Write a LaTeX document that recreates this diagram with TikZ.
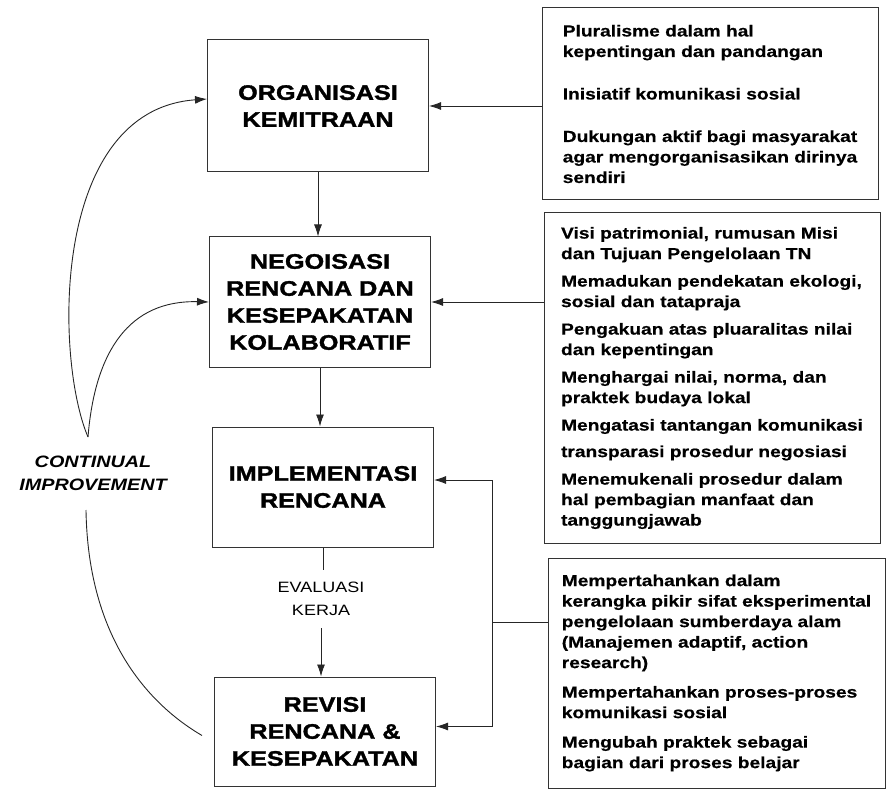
\documentclass[tikz,border=0pt]{standalone}
\usepackage{fontspec}
\setmainfont{Liberation Sans}[FakeStretch=1.2]
\newfontfamily\judulfont{Liberation Sans Bold}[FakeStretch=1.2,FakeBold=1.6]
\newfontfamily\poinfont{Liberation Sans Bold}[FakeStretch=1.2,FakeBold=0.5]
\usetikzlibrary{arrows.meta}

\tikzset{
  tahap/.style={draw=black!80, line width=1pt, minimum width=221pt, align=center,
    font=\judulfont\fontsize{21}{27}\selectfont},
  poin/.style={draw=black!80, line width=1pt, align=left,
    font=\poinfont\fontsize{16}{20.5}\selectfont},
  panah/.style={-{Latex[length=12pt,width=8pt]}, line width=0.9pt, draw=black!85},
  garis/.style={line width=0.9pt, draw=black!85}
}

\begin{document}
\begin{tikzpicture}[x=1pt,y=-1pt]%[show background grid]
    \useasboundingbox (0,0) rectangle (888,794);

    \node[tahap, minimum height=132pt] (Organisasi) at (318,106) {ORGANISASI\\KEMITRAAN};
    \node[tahap, minimum height=130pt] (Negoisasi) at (320,302) {NEGOISASI\\RENCANA DAN\\KESEPAKATAN\\KOLABORATIF};
    \node[tahap, minimum height=120pt] (Implementasi) at (323,487) {IMPLEMENTASI\\RENCANA};
    \node[tahap, minimum height=109pt] (Revisi) at (325,731.5) {REVISI\\RENCANA \&\\KESEPAKATAN};

    \node[font=\fontsize{15}{23}\selectfont, align=center, inner ysep=12pt] (Evaluasi) at (321,599) {EVALUASI\\KERJA};
    \node[font=\bfseries\itshape\fontsize{16.5}{23}\selectfont, align=center] (Continual) at (93,473) {CONTINUAL\\IMPROVEMENT};

    \node[poin, minimum width=336pt, minimum height=192pt] (OrganisasiPoin) at (710,104)
      {Pluralisme dalam hal\\kepentingan dan pandangan\\[22pt]
       Inisiatif komunikasi sosial\\[22pt]
       Dukungan aktif bagi masyarakat\\agar mengorganisasikan dirinya\\sendiri};

    \node[poin, minimum width=336pt, minimum height=330pt] (NegoisasiPoin) at (712,378)
      {Visi patrimonial, rumusan Misi\\dan Tujuan Pengelolaan TN\\[7pt]
       Memadukan pendekatan ekologi,\\sosial dan tatapraja\\[7pt]
       Pengakuan atas pluaralitas nilai\\dan kepentingan\\[7pt]
       Menghargai nilai, norma, dan\\praktek budaya lokal\\[7pt]
       Mengatasi tantangan komunikasi\\[6pt]
       transparasi prosedur negosiasi\\[7pt]
       Menemukenali prosedur dalam\\hal pembagian manfaat dan\\tanggungjawab};

    \node[poin, minimum width=337pt, minimum height=230pt] (RevisiPoin) at (716.5,673)
      {Mempertahankan dalam\\kerangka pikir sifat eksperimental\\pengelolaan sumberdaya alam\\(Manajemen adaptif, action\\research)\\[9pt]
       Mempertahankan proses-proses\\komunikasi sosial\\[9pt]
       Mengubah praktek sebagai\\bagian dari proses belajar};

    \draw[panah] (Organisasi.south) -- (Organisasi.south |- Negoisasi.north);
    \draw[panah] (Negoisasi.south) -- (Negoisasi.south |- Implementasi.north);
    \draw[garis] (Implementasi.south) -- (Implementasi.south |- Evaluasi.north);
    \draw[panah] (Evaluasi.south) -- (Evaluasi.south |- Revisi.north);

    \draw[panah] (OrganisasiPoin.west |- Organisasi) -- (Organisasi.east);
    \draw[panah] (NegoisasiPoin.west |- Negoisasi) -- (Negoisasi.east);

    \coordinate (Cabang) at (492,622);
    \draw[garis] (RevisiPoin.west |- Cabang) -- (Cabang);
    \draw[panah] (Cabang) |- ([yshift=7pt]Implementasi.east);
    \draw[panah] (Cabang) |- ([yshift=5pt]Revisi.east);

    \coordinate (Puncak) at (88,437);
    \coordinate (Pangkal) at (86,510);
    \draw[panah] (Puncak) .. controls (55,360) and (50,110) .. ([yshift=7pt]Organisasi.west);
    \draw[panah] (Puncak) .. controls (95,350) and (130,300) .. (Negoisasi.west);
    \draw[garis] (Pangkal) .. controls (88,640) and (150,705) .. ([xshift=-12pt,yshift=-4pt]Revisi.west);

\end{tikzpicture}
\end{document}
